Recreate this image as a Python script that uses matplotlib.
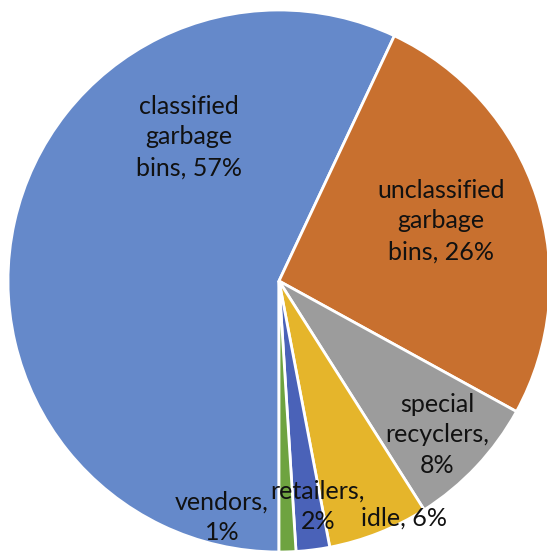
import matplotlib
matplotlib.use('Agg')
import matplotlib.pyplot as plt

categories = ['classified\ngarbage\nbins', 'unclassified\ngarbage\nbins', 'special\nrecyclers,', 'idle', 'retailers,', 'vendors,']
shares = [57, 26, 8, 6, 2, 1]
colors = ['#6589CA', '#C8702F', '#9C9C9C', '#E5B52B', '#4A62B8', '#6EA340']

# how each label joins its name and percentage
joins = [', ', ', ', '\n', ', ', '\n', '\n']
# label centres in pixel coordinates (origin bottom-left)
label_xy = [(189, 551 - 137), (441, 551 - 221), (437, 551 - 435),
            (404, 551 - 518), (318, 551 - 506), (222, 551 - 517)]

W, H = 547, 551
fig = plt.figure(figsize=(W / 100, H / 100), dpi=100)
ax = fig.add_axes([0, 0, 1, 1])

ax.pie(shares, colors=colors, startangle=270, counterclock=False,
       center=(279, H - 281), radius=271,
       wedgeprops=dict(edgecolor='white', linewidth=2))

for cat, val, j, (x, y) in zip(categories, shares, joins, label_xy):
    ax.text(x, y, '{}{}{}%'.format(cat, j, val), ha='center', va='center',
            fontsize=18, family='Lato', color='#111111', linespacing=1.4)

ax.set_xlim(0, W)
ax.set_ylim(0, H)
ax.set_aspect('equal')
ax.axis('off')

fig.savefig('out.png', dpi=100)
